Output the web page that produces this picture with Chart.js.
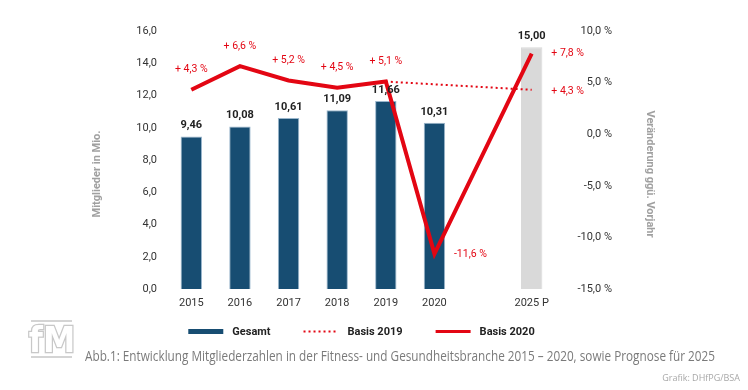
<!DOCTYPE html>
<html><head><meta charset="utf-8">
<script src="https://cdn.jsdelivr.net/npm/chart.js@4/dist/chart.umd.min.js"></script>
<style>html,body{margin:0;padding:0;background:#fff;}#wrap{width:748px;height:390px;position:relative;}</style>
</head><body><div id="wrap"><canvas id="c" width="748" height="390"></canvas></div>
<script>
const years = ['2015','2016','2017','2018','2019','2020','','2025 P'];
const members = [9.46,10.08,10.61,11.09,11.66,10.31,null,15.00];
const basis2020 = [4.3,6.6,5.2,4.5,5.1,-11.6,null,7.8];
const basis2019 = [null,null,null,null,5.1,null,null,4.3];
const leftTicks = {min:0,max:16,step:2};
const rightTicks = {min:-15,max:10,step:5};
const seriesNames = ['Gesamt','Basis 2019','Basis 2020'];
const captionText = 'Abb.1: Entwicklung Mitgliederzahlen in der Fitness- und Gesundheitsbranche 2015 \u2013 2020, sowie Prognose f\u00fcr 2025';
const creditText = 'Grafik: DHfPG/BSA';
const leftTitle = 'Mitglieder in Mio.';
const rightTitle = 'Ver\u00e4nderung gg\u00fc. Vorjahr';

const RED = '#e30613', BLUE = '#174d72', GREY = '#d9d9d9';
const FONT = 'Roboto, "Liberation Sans", Arial, sans-serif';
const de = v => v.toFixed(1).replace('.', ',');
const pct = v => (v > 0 ? '+ ' : '') + de(v) + ' %';

const decor = {
  id: 'decor',
  afterDatasetsDraw(chart) {
    const ctx = chart.ctx, ca = chart.chartArea;
    const meta0 = chart.getDatasetMeta(0), meta1 = chart.getDatasetMeta(1), meta2 = chart.getDatasetMeta(2);
    ctx.save();
    ctx.font = 'bold 11px ' + FONT; ctx.fillStyle = '#222'; ctx.textAlign = 'center'; ctx.textBaseline = 'middle';
    members.forEach((v, i) => {
      if (v == null) return;
      const el = meta0.data[i];
      ctx.fillText(v.toFixed(2).replace('.', ','), el.x, el.y - 11);
    });
    ctx.font = '10.5px ' + FONT; ctx.fillStyle = RED;
    const last = basis2020.length - 1;
    basis2020.forEach((v, i) => {
      if (v == null) return;
      const el = meta2.data[i];
      if (i === last || v < 0) ctx.fillText(pct(v), el.x + 36, el.y);
      else ctx.fillText(pct(v), el.x, el.y - 20);
    });
    basis2019.forEach((v, i) => {
      if (v == null || i !== last) return;
      const el = meta1.data[i];
      ctx.fillText(pct(v), el.x + 36, el.y + 2);
    });
    const midY = (ca.top + ca.bottom) / 2 + 14;
    ctx.font = 'bold 11px ' + FONT; ctx.fillStyle = '#a0a0a0';
    ctx.save(); ctx.translate(97, midY); ctx.rotate(-Math.PI / 2); ctx.fillText(leftTitle, 0, 0); ctx.restore();
    ctx.save(); ctx.translate(650, midY); ctx.rotate(Math.PI / 2); ctx.fillText(rightTitle, 0, 0); ctx.restore();
    const ly = 331;
    ctx.font = 'bold 11px ' + FONT; ctx.textAlign = 'left';
    const sw = 35, g1 = 9, g2 = 33;
    let total = 0;
    seriesNames.forEach((n, i) => { total += sw + g1 + ctx.measureText(n).width + (i < 2 ? g2 : 0); });
    let x = (ca.left + ca.right) / 2 - total / 2;
    seriesNames.forEach((n, i) => {
      ctx.save();
      if (i === 0) { ctx.fillStyle = BLUE; ctx.fillRect(x, ly - 2, sw, 5); }
      else {
        ctx.strokeStyle = RED; ctx.lineWidth = i === 1 ? 2 : 3;
        if (i === 1) ctx.setLineDash([2, 3]);
        ctx.beginPath(); ctx.moveTo(x, ly + 0.5); ctx.lineTo(x + sw, ly + 0.5); ctx.stroke();
      }
      ctx.restore();
      ctx.fillStyle = '#222';
      ctx.fillText(n, x + sw + g1, ly + 1);
      x += sw + g1 + ctx.measureText(n).width + g2;
    });
    ctx.font = '14px "Open Sans", ' + FONT; ctx.fillStyle = '#7a7a7a';
    ctx.fillText(captionText, 85, 357, 630);
    ctx.font = '9px "Open Sans", ' + FONT; ctx.fillStyle = '#a8a8a8'; ctx.textAlign = 'right';
    ctx.fillText(creditText, 740, 378);
    ctx.fillStyle = '#d4d4d4';
    ctx.fillRect(31, 320, 41, 2); ctx.fillRect(31, 356, 41, 2);
    ctx.font = 'bold 36px "Liberation Sans Narrow", "DejaVu Sans Condensed", ' + FONT;
    ctx.textAlign = 'center'; ctx.textBaseline = 'alphabetic';
    ctx.lineWidth = 2.5; ctx.strokeStyle = '#c8c8c8';
    ctx.strokeText('fM', 52, 352);
    ctx.fillStyle = '#fff'; ctx.fillText('fM', 52, 352);
    ctx.restore();
  }
};

new Chart(document.getElementById('c'), {
  type: 'bar',
  data: {
    labels: years,
    datasets: [
      { label: seriesNames[0], type: 'bar', data: members, yAxisID: 'y', order: 3,
        backgroundColor: members.map((v, i) => i === members.length - 1 ? GREY : BLUE),
        borderColor: members.map((v, i) => i === members.length - 1 ? GREY : '#9ab6cc'),
        borderWidth: 1, barPercentage: 0.44, categoryPercentage: 1 },
      { label: seriesNames[1], type: 'line', data: basis2019, yAxisID: 'y1', order: 2,
        borderColor: RED, borderWidth: 2, borderDash: [2, 3], pointRadius: 0, spanGaps: true, tension: 0, fill: false },
      { label: seriesNames[2], type: 'line', data: basis2020, yAxisID: 'y1', order: 1,
        borderColor: RED, borderWidth: 4, pointRadius: 0, spanGaps: true, tension: 0, fill: false }
    ]
  },
  options: {
    responsive: false, animation: false, devicePixelRatio: 1,
    layout: { padding: { top: 31, left: 0, right: 136, bottom: 0 } },
    plugins: { legend: { display: false }, tooltip: { enabled: false } },
    scales: {
      x: { grid: { display: false, drawTicks: false }, border: { display: false },
        ticks: { color: '#333', font: { family: FONT, size: 11 }, padding: 8 },
        afterFit: s => { s.height = 101; } },
      y: { position: 'left', min: leftTicks.min, max: leftTicks.max,
        grid: { display: false, drawTicks: false }, border: { display: false },
        ticks: { stepSize: leftTicks.step, color: '#333', font: { family: FONT, size: 11 }, padding: 10, callback: v => de(v) },
        afterFit: s => { s.width = 167; } },
      y1: { position: 'right', min: rightTicks.min, max: rightTicks.max,
        grid: { display: false, drawTicks: false }, border: { display: false },
        ticks: { stepSize: rightTicks.step, color: '#333', font: { family: FONT, size: 11 }, padding: 20, crossAlign: 'far', callback: v => de(v) + ' %' },
        afterFit: s => { s.width = 56; } }
    }
  },
  plugins: [decor]
});
</script></body></html>
